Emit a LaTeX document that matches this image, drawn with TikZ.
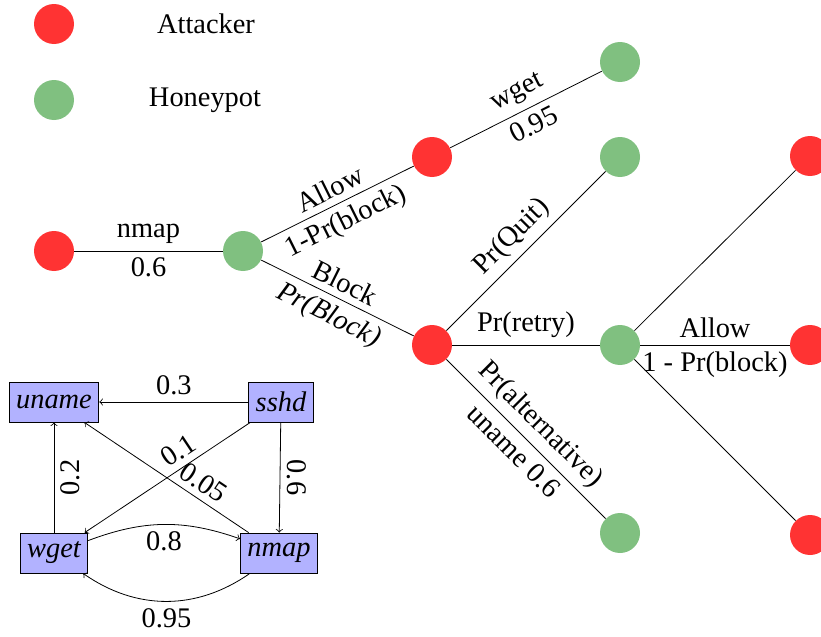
\documentclass[tikz,border=0pt]{standalone}
\usepackage{fontspec}
\setmainfont{Liberation Serif}
\usepackage{tikz}
\definecolor{attackred}{HTML}{FF3333}
\definecolor{honeygreen}{HTML}{80C080}
\begin{document}
\begin{tikzpicture}[x=0.5pt,y=-0.5pt,
  font=\fontsize{14.2}{17}\selectfont,
  attacker/.style={circle,fill=attackred,minimum size=20pt,inner sep=0pt},
  honeypot/.style={circle,fill=honeygreen,minimum size=20pt,inner sep=0pt},
  proc/.style={draw,fill=blue!30,minimum height=20pt,inner xsep=3.5pt,font=\fontsize{14.2}{17}\selectfont\itshape}]
\useasboundingbox (0,0) rectangle (821,637);
% legend
\node[attacker] (la) at (54,24) {};
\node (lat) at (206,24) {Attacker};
\node[honeypot] (lh) at (54,100) {};
\node (lht) at (205,100) {Honeypot};
% game tree
\node[attacker] (a0) at (54,251) {};
\node[honeypot] (h1) at (243,251) {};
\node[attacker] (a1) at (432,157) {};
\node[attacker] (a2) at (432,345) {};
\node[honeypot] (h2) at (620,62) {};
\node[honeypot] (h3) at (620,157) {};
\node[honeypot] (h4) at (620,345) {};
\node[honeypot] (h5) at (620,533) {};
\node[attacker] (a3) at (810,156) {};
\node[attacker] (a4) at (810,345) {};
\node[attacker] (a5) at (810,535) {};
\draw (a0) -- node[above] {nmap} node[below] {0.6} (h1);
\draw (h1) -- node[above,sloped] {Allow} node[below,sloped] {1-Pr(block)} (a1);
\draw (h1) -- node[above,sloped] {Block} node[below,sloped] {\textit{Pr(Block)}} (a2);
\draw (a1) -- node[above,sloped] {wget} node[below,sloped] {0.95} (h2);
\draw (a2) -- node[above,sloped] {Pr(Quit)} (h3);
\draw (a2) -- node[above] {Pr(retry)} (h4);
\draw (a2) -- node[above,sloped] {Pr(alternative)} node[below,sloped] {uname 0.6} (h5);
\draw (h4) -- (a3);
\draw (h4) -- node[above] {Allow} node[below] {1 - Pr(block)} (a4);
\draw (h4) -- (a5);
% transition graph
\node[proc] (uname) at (54,402) {uname};
\node[proc] (sshd) at (281,402) {sshd};
\node[proc] (wget) at (54,553) {wget};
\node[proc] (nmap) at (279,553) {nmap};
\draw[->] (sshd) -- node[above] {0.3} (uname);
\draw[->] (sshd) -- node[pos=0.38,above,sloped] {0.1} (wget);
\draw[->] (nmap) -- node[pos=0.33,above,sloped] {0.05} (uname);
\draw[->] (wget) -- node[below,sloped] {0.2} (uname);
\draw[->] (sshd) -- node[anchor=south,rotate=-90] {0.6} (nmap);
\draw[->] (wget) to[bend left=20] node[below] {0.8} (nmap);
\draw[->] (nmap) to[bend left=35] node[below] {0.95} (wget);
\end{tikzpicture}
\end{document}
